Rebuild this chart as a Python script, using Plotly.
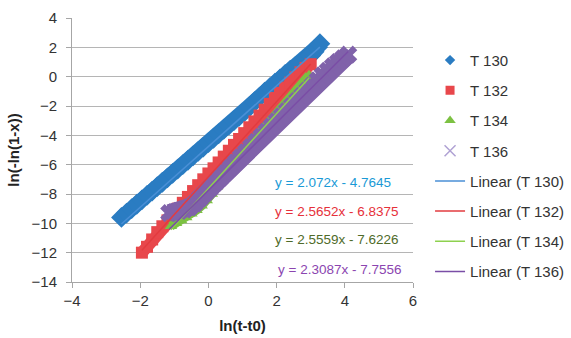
import plotly.graph_objects as go

# ---------------- data ----------------
t130_x = [-2.55, -2.40, -2.25, -2.10, -1.95, -1.80, -1.65, -1.50, -1.35, -1.20,
          -1.05, -0.90, -0.75, -0.60, -0.45, -0.30, -0.15, 0.00, 0.15, 0.30,
          0.45, 0.60, 0.75, 0.90, 1.05, 1.20, 1.35, 1.50, 1.65, 1.80,
          1.95, 2.10, 2.25, 2.40, 2.55, 2.70, 2.85, 3.00, 3.10, 3.20,
          3.27]
t130_y = [-9.60, -9.30, -9.00, -8.70, -8.40, -8.10, -7.80, -7.50, -7.20, -6.90,
          -6.60, -6.30, -6.00, -5.70, -5.40, -5.10, -4.80, -4.50, -4.20, -3.90,
          -3.60, -3.30, -3.00, -2.70, -2.40, -2.05, -1.70, -1.40, -1.05, -0.75,
          -0.45, -0.15, 0.15, 0.45, 0.70, 0.95, 1.20, 1.45, 1.70, 2.00,
          2.25]

t132_x = [-1.95, -1.80, -1.65, -1.50, -1.35, -1.20, -1.05, -0.90, -0.75, -0.60,
          -0.45, -0.30, -0.15, 0.00, 0.15, 0.30, 0.45, 0.60, 0.75, 0.90,
          1.05, 1.20, 1.35, 1.50, 1.65, 1.80, 1.95, 2.10, 2.25, 2.40,
          2.55, 2.70, 2.85, 3.00]
t132_y = [-12.0, -11.6, -11.1, -10.6, -10.2, -9.8, -9.4, -9.0, -8.6, -8.2,
          -7.8, -7.4, -7.0, -6.6, -6.25, -5.85, -5.45, -5.05, -4.65, -4.25,
          -3.85, -3.45, -3.05, -2.65, -2.25, -1.85, -1.45, -1.10, -0.75, -0.40,
          -0.05, 0.30, 0.60, 0.85]

t134_x = [-1.10, -0.95, -0.80, -0.65, -0.50, -0.35, -0.20, -0.05, 0.10, 0.25,
          0.40, 0.55, 0.70, 0.85, 1.00, 1.15, 1.30, 1.45, 1.60, 1.75,
          1.90, 2.05, 2.20, 2.35, 2.50, 2.65, 2.80, 2.95]
t134_y = [-10.2, -10.0, -9.8, -9.6, -9.35, -9.1, -8.8, -8.45, -8.0, -7.5,
          -7.0, -6.5, -6.05, -5.6, -5.2, -4.8, -4.4, -3.95, -3.55, -3.15,
          -2.75, -2.35, -1.95, -1.55, -1.15, -0.75, -0.35, 0.10]

t136_x = [-1.15, -1.00, -0.85, -0.70, -0.55, -0.40, -0.25, -0.10, 0.05, 0.20,
          0.35, 0.50, 0.65, 0.80, 0.95, 1.10, 1.25, 1.40, 1.55, 1.70,
          1.85, 2.00, 2.15, 2.30, 2.45, 2.60, 2.75, 2.90, 3.05, 3.20,
          3.35, 3.50, 3.65, 3.80, 3.95, 4.10]
t136_y = [-9.30, -9.25, -9.15, -9.05, -8.90, -8.65, -8.30, -7.95, -7.60, -7.25,
          -6.90, -6.55, -6.20, -5.85, -5.50, -5.15, -4.80, -4.45, -4.10, -3.75,
          -3.40, -3.05, -2.70, -2.35, -2.00, -1.65, -1.30, -0.95, -0.60, -0.25,
          0.10, 0.40, 0.70, 1.00, 1.25, 1.50]

series_names = ["T 130", "T 132", "T 134", "T 136"]
fit_slopes = [2.072, 2.5652, 2.5559, 2.3087]
fit_intercepts = [-4.7645, -6.8375, -7.6226, -7.7556]
equation_labels = ["y = 2.072x - 4.7645", "y = 2.5652x - 6.8375",
                   "y = 2.5559x - 7.6226", "y = 2.3087x - 7.7556"]
x_ticks = [-4, -2, 0, 2, 4, 6]
y_ticks = [4, 2, 0, -2, -4, -6, -8, -10, -12, -14]

# ---------------- styling ----------------
FONT = "Liberation Sans"
marker_colors = ["#2a7cc2", "#e8474b", "#7cc142", "#8062aa"]
marker_symbols = ["diamond", "square", "triangle-up", "x"]
marker_sizes = [16, 12, 11, 16]
band_widths = [14, 12, 9, 18]
legend_sizes = [8, 9, 10, 11]
line_colors = ["#4a8fd6", "#e23b3f", "#8ed14f", "#7a4ea6"]
eq_colors = ["#1a9ad6", "#e6303a", "#4f6b2a", "#8b45b0"]
eq_pos = [(1.88, -7.22), (1.88, -9.2), (1.88, -11.1), (1.97, -13.14)]

xs = [t130_x, t132_x, t134_x, t136_x]
ys = [t130_y, t132_y, t134_y, t136_y]

fig = go.Figure()

# data bands (dense measured points)
for i in range(4):
    fig.add_trace(go.Scatter(
        x=xs[i], y=ys[i], mode="lines+markers", showlegend=False, hoverinfo="skip",
        line=dict(color=marker_colors[i], width=band_widths[i]),
        marker=dict(symbol=marker_symbols[i], size=marker_sizes[i],
                    color=marker_colors[i], line=dict(width=0)),
    ))

# linear trendlines
for i in range(4):
    x0, x1 = min(xs[i]), max(xs[i])
    fig.add_trace(go.Scatter(
        x=[x0, x1], y=[fit_slopes[i] * x0 + fit_intercepts[i], fit_slopes[i] * x1 + fit_intercepts[i]],
        mode="lines", showlegend=False, hoverinfo="skip",
        line=dict(color=line_colors[i], width=1.5),
    ))

# legend entries
for i in range(4):
    if marker_symbols[i] == "x":
        mk = dict(symbol="x-thin", size=legend_sizes[i], color="#b0a2d4",
                  line=dict(width=1.5, color="#b0a2d4"))
    else:
        mk = dict(symbol=marker_symbols[i], size=legend_sizes[i], color=marker_colors[i])
    fig.add_trace(go.Scatter(x=[None], y=[None], mode="markers", name=series_names[i],
                             legendgroup="m%d" % i, marker=mk))
for i in range(4):
    fig.add_trace(go.Scatter(x=[None], y=[None], mode="lines",
                             name="Linear (%s)" % series_names[i],
                             legendgroup="l%d" % i,
                             line=dict(color=line_colors[i], width=1.5)))

for i in range(4):
    fig.add_annotation(x=eq_pos[i][0], y=eq_pos[i][1], text=equation_labels[i],
                       showarrow=False, xanchor="left", yanchor="middle",
                       font=dict(family=FONT, size=13.5, color=eq_colors[i]))

fig.update_layout(
    width=571, height=338,
    margin=dict(l=72, r=158, t=18, b=56, autoexpand=False),
    paper_bgcolor="white", plot_bgcolor="white",
    font=dict(family=FONT, size=14, color="#333333"),
    showlegend=True,
    legend=dict(x=1.05, xanchor="left", y=0.902, yanchor="top",
                font=dict(family=FONT, size=15, color="#333333"),
                tracegroupgap=7.7, traceorder="grouped",
                bgcolor="rgba(0,0,0,0)", itemwidth=30),
    xaxis=dict(range=[-4, 6], tickvals=x_ticks, showgrid=False, zeroline=False,
               automargin=False,
               showline=True, linecolor="#a6a6a6", linewidth=1,
               ticks="outside", ticklen=5, tickcolor="#a6a6a6",
               tickfont=dict(family=FONT, size=15, color="#333333"),
               title=dict(text="<b>ln(t-t0)</b>", standoff=12,
                          font=dict(family=FONT, size=15, color="#222222"))),
    yaxis=dict(range=[-14, 4], tickvals=y_ticks, showgrid=True, gridcolor="#b5b5b5",
               gridwidth=1, zeroline=False, automargin=False,
               showline=True, linecolor="#a6a6a6", linewidth=1,
               ticks="outside", ticklen=5, tickcolor="#a6a6a6",
               ticklabelstandoff=6,
               tickfont=dict(family=FONT, size=15, color="#333333"),
               title=dict(text="<b>ln(-ln(1-x))</b>", standoff=8,
                          font=dict(family=FONT, size=15, color="#222222"))),
)

fig.write_html("out.html", config={"displayModeBar": False},
               post_script="document.body.style.margin='0px';")
